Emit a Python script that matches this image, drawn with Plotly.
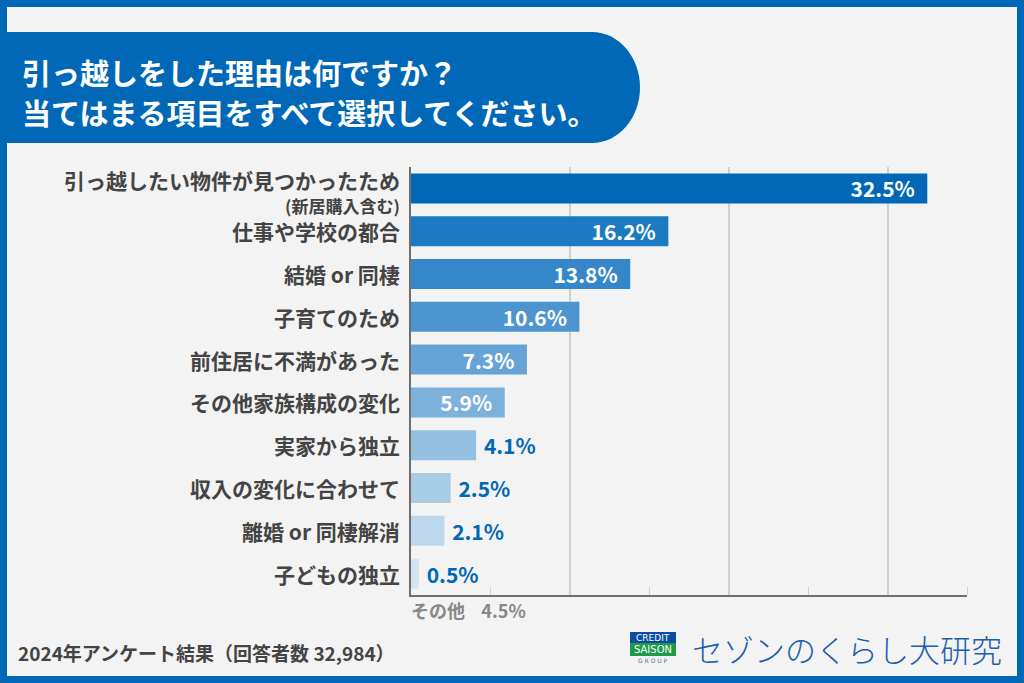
import plotly.graph_objects as go

# ---- data ----
categories = [
    "引っ越したい物件が見つかったため",
    "仕事や学校の都合",
    "結婚 or 同棲",
    "子育てのため",
    "前住居に不満があった",
    "その他家族構成の変化",
    "実家から独立",
    "収入の変化に合わせて",
    "離婚 or 同棲解消",
    "子どもの独立",
]
sub_note = "(新居購入含む)"
values = [32.5, 16.2, 13.8, 10.6, 7.3, 5.9, 4.1, 2.5, 2.1, 0.5]
other_label = "その他"
other_value = 4.5
title_lines = ["引っ越しをした理由は何ですか？", "当てはまる項目をすべて選択してください。"]
footer = "2024年アンケート結果（回答者数 32,984）"
brand = "セゾンのくらし大研究"

# ---- style ----
BLUE = "#0068B7"
bar_colors = ["#0068B7", "#1C7AC3", "#3587CA", "#4C95D0", "#66A4D7", "#7CB1DC",
              "#94C0E2", "#A9CCE7", "#BDD8EC", "#D3E4F2"]
FONT = "Noto Sans CJK JP"
W_TOT, H_TOT = 1024, 683
L, R, T, B = 411, 967, 167, 595


def px(x):
    return (x - L) / (R - L)


def py(y):
    return (B - y) / (B - T)


inside = [v >= 5 for v in values]
texts = [("%.1f%%\u00a0\u00a0" % v) if ins else ("\u00a0%.1f%%" % v)
         for v, ins in zip(values, inside)]
positions = ["inside" if ins else "outside" for ins in inside]

fig = go.Figure()
fig.add_trace(go.Bar(
    x=values, y=categories, orientation="h",
    marker=dict(color=bar_colors, line=dict(width=0)),
    width=0.7,
    text=texts, textposition=positions, insidetextanchor="end",
    constraintext="none",
    insidetextfont=dict(family=FONT, size=21, color="white", weight="bold"),
    outsidetextfont=dict(family=FONT, size=21, color=BLUE, weight="bold"),
    cliponaxis=False, hoverinfo="skip",
))

annotations = []
for i, c in enumerate(categories):
    annotations.append(dict(
        x=0, xref="paper", xanchor="right", xshift=-9,
        y=c, yref="y", yanchor="middle", yshift=(8 if i == 0 else 0),
        text=c, showarrow=False,
        font=dict(family=FONT, size=21, color="#444444", weight="bold"),
    ))
annotations.append(dict(
    x=0, xref="paper", xanchor="right", xshift=-9,
    y=categories[0], yref="y", yanchor="middle", yshift=-17,
    text=sub_note, showarrow=False,
    font=dict(family=FONT, size=17, color="#444444", weight="bold"),
))
# title
for j, line in enumerate(title_lines):
    annotations.append(dict(
        x=px(20), xref="paper", xanchor="left",
        y=py(72 + j * 40), yref="paper", yanchor="middle",
        text=line, showarrow=False,
        font=dict(family=FONT, size=29, color="white", weight="bold"),
    ))
# other
annotations.append(dict(
    x=px(409), xref="paper", xanchor="left", y=py(610), yref="paper", yanchor="middle",
    text="%s\u00a0\u00a0\u00a0\u00a0%.1f%%" % (other_label, other_value), showarrow=False,
    font=dict(family=FONT, size=18, color="#888888", weight="bold"),
))
# footer
annotations.append(dict(
    x=px(16), xref="paper", xanchor="left", y=py(652), yref="paper", yanchor="middle",
    text=footer, showarrow=False,
    font=dict(family=FONT, size=19, color="#444444", weight="bold"),
))
# brand
annotations.append(dict(
    x=px(690), xref="paper", xanchor="left", y=py(648), yref="paper", yanchor="middle",
    text=brand, showarrow=False,
    font=dict(family=FONT, size=31, color="#1A5EAC", weight=300),
))
annotations += [
    dict(x=px(653), xref="paper", xanchor="center", y=py(637.5), yref="paper", yanchor="middle",
         text="CREDIT", showarrow=False, font=dict(family="DejaVu Sans", size=9, color="white")),
    dict(x=px(653), xref="paper", xanchor="center", y=py(649.5), yref="paper", yanchor="middle",
         text="SAISON", showarrow=False, font=dict(family="DejaVu Sans", size=10, color="white")),
    dict(x=px(653), xref="paper", xanchor="center", y=py(660), yref="paper", yanchor="middle",
         text="G R O U P", showarrow=False, font=dict(family="DejaVu Sans", size=6, color="#3A6FB0")),
]

k = 0.5523
bx0, bx1, by0, by1 = 0, 640, 32, 143
rx, ryy = 48, (by1 - by0) / 2
ym = (by0 + by1) / 2
banner = (
    f"M {px(bx0)},{py(by0)} L {px(bx1 - rx)},{py(by0)} "
    f"C {px(bx1 - rx + rx * k)},{py(by0)} {px(bx1)},{py(ym - ryy * k)} {px(bx1)},{py(ym)} "
    f"C {px(bx1)},{py(ym + ryy * k)} {px(bx1 - rx + rx * k)},{py(by1)} {px(bx1 - rx)},{py(by1)} "
    f"L {px(bx0)},{py(by1)} Z"
)

shapes = [
    dict(type="path", path=banner, xref="paper", yref="paper",
         fillcolor=BLUE, line=dict(width=0), layer="below"),
    dict(type="rect", xref="paper", yref="paper", x0=px(3.5), x1=px(1020.5),
         y0=py(3.5), y1=py(679.5), line=dict(color=BLUE, width=7), fillcolor="rgba(0,0,0,0)"),
    dict(type="rect", xref="paper", yref="paper", x0=px(630), x1=px(676),
         y0=py(632), y1=py(643), fillcolor="#0B4DA2", line=dict(width=0)),
    dict(type="rect", xref="paper", yref="paper", x0=px(630), x1=px(676),
         y0=py(643), y1=py(656), fillcolor="#1E9B48", line=dict(width=0)),
]

fig.update_layout(
    width=W_TOT, height=H_TOT,
    margin=dict(l=L, r=W_TOT - R, t=T, b=H_TOT - B, pad=0),
    paper_bgcolor="#F3F3F3", plot_bgcolor="rgba(0,0,0,0)",
    showlegend=False, bargap=0.3,
    annotations=annotations, shapes=shapes,
    xaxis=dict(range=[0, 35], dtick=10, showgrid=True, gridcolor="#CFCFCF", gridwidth=1.5,
               showticklabels=False, ticks="", zeroline=False,
               showline=True, linecolor="#6E6E6E", linewidth=1.5,
               minor=dict(dtick=5, ticks="inside", ticklen=8, tickcolor="#CFCFCF",
                          tickwidth=1, showgrid=False)),
    yaxis=dict(range=[9.5, -0.5], autorange=False, showticklabels=False, ticks="",
               showgrid=False, showline=True, linecolor="#6E6E6E", linewidth=1.5,
               zeroline=False),
    font=dict(family=FONT),
)

fig.write_html("out.html", config={"displayModeBar": False},
               post_script="document.body.style.margin='0';document.body.style.background='#F3F3F3';")
